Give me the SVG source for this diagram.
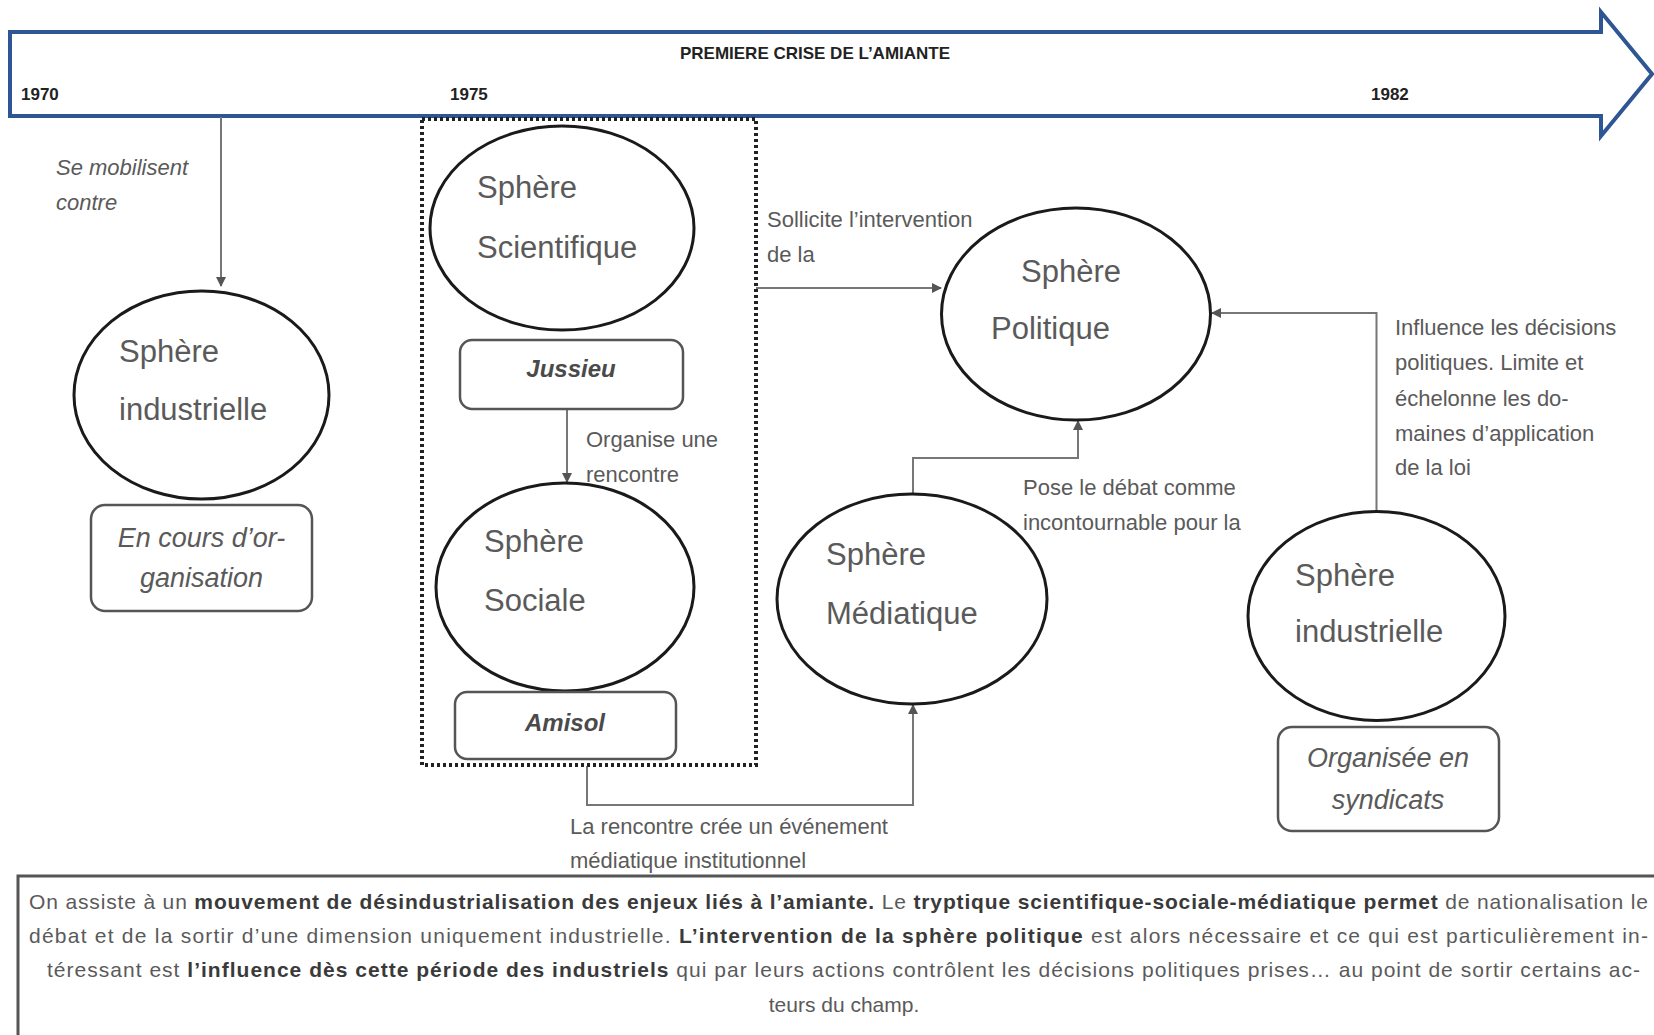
<svg xmlns="http://www.w3.org/2000/svg" width="1654" height="1035" viewBox="0 0 1654 1035">
<style>
.sphere{fill:#fff;stroke:#1a1a1a;stroke-width:3}
.box{fill:#fff;stroke:#555;stroke-width:2.5}
.st{font-family:"Liberation Sans",Arial,sans-serif;font-size:31px;fill:#5a5a5a}
.bt{font-family:"Liberation Sans",Arial,sans-serif;font-size:27px;font-style:italic;fill:#5a5a5a;text-anchor:middle}
.bb{font-family:"Liberation Sans",Arial,sans-serif;font-size:24px;font-style:italic;font-weight:bold;fill:#4a4a4a;text-anchor:middle}
.lbl{font-family:"Liberation Sans",Arial,sans-serif;font-size:22px;fill:#5a5a5a}
.yr{font-family:"Liberation Sans",Arial,sans-serif;font-size:17px;font-weight:bold;fill:#222}
.con{fill:none;stroke:#777;stroke-width:2}
.para{font-family:"Liberation Sans",Arial,sans-serif;font-size:21px;fill:#5a5a5a}
.para .b{font-weight:bold;fill:#3a3a3a}
</style>
<defs>
<marker id="ah" viewBox="0 0 10 10" refX="9" refY="5" markerWidth="10" markerHeight="10" markerUnits="userSpaceOnUse" orient="auto">
<path d="M0,0 L10,5 L0,10 z" fill="#555"/>
</marker>
</defs>

<g id="timeline">
<path d="M10,32 L1601,32 L1601,12 L1652,74 L1601,136 L1601,116 L10,116 Z" fill="#fff" stroke="#2e5594" stroke-width="4"/>
<text class="yr" x="815" y="59" text-anchor="middle">PREMIERE CRISE DE L’AMIANTE</text>
<text class="yr" x="21" y="100">1970</text>
<text class="yr" x="450" y="100">1975</text>
<text class="yr" x="1371" y="100">1982</text>
</g>

<g id="connectors">
<path class="con" d="M221,117 L221,286" marker-end="url(#ah)"/>
<path class="con" d="M567,410 L567,482" marker-end="url(#ah)"/>
<path class="con" d="M756,288 L941,288" marker-end="url(#ah)"/>
<path class="con" d="M587,766 L587,805 L913,805 L913,705" marker-end="url(#ah)"/>
<path class="con" d="M913,494 L913,458 L1078,458 L1078,421" marker-end="url(#ah)"/>
<path class="con" d="M1376.5,511 L1376.5,313 L1212,313" marker-end="url(#ah)"/>
</g>

<g id="labels">
<text class="lbl" x="56" y="175" font-style="italic" font-size="23">Se mobilisent</text>
<text class="lbl" x="56" y="210" font-style="italic" font-size="23">contre</text>
<text class="lbl" x="767" y="227">Sollicite l’intervention</text>
<text class="lbl" x="767" y="262">de  la</text>
<text class="lbl" x="586" y="447">Organise une</text>
<text class="lbl" x="586" y="482">rencontre</text>
<text class="lbl" x="570" y="834">La rencontre crée un événement</text>
<text class="lbl" x="570" y="868">médiatique institutionnel</text>
<text class="lbl" x="1023" y="495">Pose le débat comme</text>
<text class="lbl" x="1023" y="530">incontournable pour la</text>
<text class="lbl" x="1395" y="335">Influence les décisions</text>
<text class="lbl" x="1395" y="370">politiques. Limite et</text>
<text class="lbl" x="1395" y="406">échelonne les do-</text>
<text class="lbl" x="1395" y="441">maines d’application</text>
<text class="lbl" x="1395" y="475">de la loi</text>
</g>

<g id="industrielle-1970">
<ellipse class="sphere" cx="201.5" cy="395" rx="127.5" ry="104"/>
<text class="st" x="119" y="362">Sphère</text>
<text class="st" x="119" y="420">industrielle</text>
</g>
<g id="box-organisation">
<rect class="box" x="91" y="505" width="221" height="106" rx="14"/>
<text class="bt" x="201.5" y="547">En cours d’or-</text>
<text class="bt" x="201.5" y="587">ganisation</text>
</g>

<g id="groupe-1975">
<rect x="422" y="119" width="334" height="646" fill="none" stroke="#222" stroke-width="4" stroke-dasharray="3 3"/>
</g>

<g id="scientifique">
<ellipse class="sphere" cx="562" cy="228" rx="132" ry="102"/>
<text class="st" x="477" y="198">Sphère</text>
<text class="st" x="477" y="258">Scientifique</text>
</g>
<g id="jussieu">
<rect class="box" x="460" y="340" width="223" height="69" rx="12"/>
<text class="bb" x="571" y="377">Jussieu</text>
</g>
<g id="sociale">
<ellipse class="sphere" cx="565" cy="587" rx="129" ry="104"/>
<text class="st" x="484" y="552">Sphère</text>
<text class="st" x="484" y="611">Sociale</text>
</g>
<g id="amisol">
<rect class="box" x="455" y="692" width="221" height="67" rx="12"/>
<text class="bb" x="565" y="731">Amisol</text>
</g>

<g id="mediatique">
<ellipse class="sphere" cx="912" cy="599" rx="135" ry="105"/>
<text class="st" x="826" y="565">Sphère</text>
<text class="st" x="826" y="624">Médiatique</text>
</g>

<g id="politique">
<ellipse class="sphere" cx="1076" cy="314" rx="134.5" ry="106"/>
<text class="st" x="1021" y="282">Sphère</text>
<text class="st" x="991" y="339">Politique</text>
</g>

<g id="industrielle-1982">
<ellipse class="sphere" cx="1376.5" cy="616" rx="128.5" ry="104.5"/>
<text class="st" x="1295" y="586">Sphère</text>
<text class="st" x="1295" y="642">industrielle</text>
</g>
<g id="box-syndicats">
<rect class="box" x="1278" y="727" width="221" height="104" rx="14"/>
<text class="bt" x="1388" y="767">Organisée en</text>
<text class="bt" x="1388" y="809">syndicats</text>
</g>

<g id="conclusion">
<rect x="18" y="876" width="1700" height="200" fill="#fff" stroke="#555" stroke-width="3"/>
<text class="para" x="29" y="909" textLength="1619" lengthAdjust="spacing" fill="#3a3a3a">On assiste à un <tspan class="b">mouvement de désindustrialisation des enjeux liés à l’amiante.</tspan> Le <tspan class="b">tryptique scientifique-sociale-médiatique permet</tspan> de nationalisation le</text>
<text class="para" x="29" y="943" textLength="1619" lengthAdjust="spacing">débat  et de la sortir d’une dimension uniquement industrielle. <tspan class="b">L’intervention de la sphère politique</tspan> est alors nécessaire et ce qui est particulièrement in-</text>
<text class="para" x="47" y="977" textLength="1593" lengthAdjust="spacing">téressant est <tspan class="b">l’influence dès cette période des industriels</tspan> qui par leurs actions contrôlent les décisions politiques prises… au point de sortir certains ac-</text>
<text class="para" x="844" y="1012" text-anchor="middle">teurs du champ.</text>
</g>
</svg>
